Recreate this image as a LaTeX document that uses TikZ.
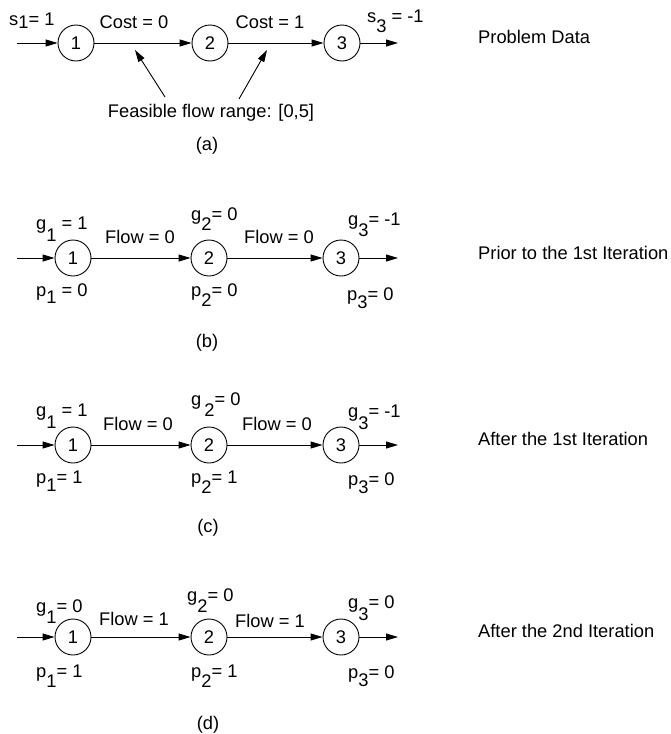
\documentclass[tikz,border=0pt]{standalone}
\usepackage{fontspec}
\setmainfont{Liberation Sans}
\usetikzlibrary{arrows.meta}
\newcommand\dn[2]{\raisebox{-#1pt}{#2}}
\begin{document}
\begin{tikzpicture}[x=1pt,y=-1pt,font=\fontsize{18.3}{20}\selectfont,
 nd/.style={circle,draw,line width=0.9pt,minimum size=36pt,inner sep=0pt},
 arr/.style={line width=0.9pt,-{Triangle[length=12pt,width=7pt]}},
 lbl/.style={anchor=base west,inner sep=0pt},
 ctr/.style={anchor=base,inner sep=0pt}]
\useasboundingbox (0,0) rectangle (671,734);
% ---------- (a)
\node[nd] (a1) at (76,43) {1};
\node[nd] (a2) at (210,43) {2};
\node[nd] (a3) at (342,43) {3};
\coordinate (a0) at (17,43); \coordinate (a4) at (398,43);
\draw[arr] (a0) -- (a1); \draw[arr] (a1) -- (a2); \draw[arr] (a2) -- (a3); \draw[arr] (a3) -- (a4);
\node[lbl] (as1) at (9,25) {s\dn{3}{1}= 1};
\node[ctr] (ac1) at (134,28) {Cost = 0};
\node[ctr] (ac2) at (270,28) {Cost = 1};
\node[lbl] (as3) at (367,22) {s\dn{10}{3} = -1};
\node[ctr] (afeas) at (211,117) {Feasible flow range: [0,5]};
\coordinate (af1) at (165,97); \coordinate (at1) at (135,50);
\coordinate (af2) at (239,99); \coordinate (at2) at (267,50);
\draw[arr] (af1) -- (at1); \draw[arr] (af2) -- (at2);
\node[ctr] (alab) at (207,150) {(a)};
% ---------- (b)
\node[nd] (b1) at (73,258) {1};
\node[nd] (b2) at (209,258) {2};
\node[nd] (b3) at (341,258) {3};
\coordinate (b0) at (17,258); \coordinate (b4) at (398,258);
\draw[arr] (b0) -- (b1); \draw[arr] (b1) -- (b2); \draw[arr] (b2) -- (b3); \draw[arr] (b3) -- (b4);
\node[lbl] (bg1) at (36,229) {g\dn{12}{1} = 1};
\node[ctr] (bf1) at (140,243) {Flow = 0};
\node[lbl] (bg2) at (191,220) {g\dn{10}{2}= 0};
\node[ctr] (bf2) at (279,243) {Flow = 0};
\node[lbl] (bg3) at (348,225) {g\dn{11}{3}= -1};
\node[lbl] (bp1) at (36,296) {p\dn{7}{1} = 0};
\node[lbl] (bp2) at (191,296) {p\dn{10}{2}= 0};
\node[lbl] (bp3) at (347,300) {p\dn{8}{3}= 0};
\node[ctr] (blab) at (207,347) {(b)};
% ---------- (c)
\node[nd] (c1) at (73,445) {1};
\node[nd] (c2) at (209,445) {2};
\node[nd] (c3) at (341,445) {3};
\coordinate (c0) at (17,445); \coordinate (c4) at (398,445);
\draw[arr] (c0) -- (c1); \draw[arr] (c1) -- (c2); \draw[arr] (c2) -- (c3); \draw[arr] (c3) -- (c4);
\node[lbl] (cg1) at (36,416) {g\dn{12}{1} = 1};
\node[ctr] (cf1) at (138,430) {Flow = 0};
\node[lbl] (cg2) at (191,405) {g\,\dn{11}{2}= 0};
\node[ctr] (cf2) at (277,430) {Flow = 0};
\node[lbl] (cg3) at (348,417) {g\dn{12}{3}= -1};
\node[lbl] (cp1) at (36,483) {p\dn{8}{1}= 1};
\node[lbl] (cp2) at (191,483) {p\dn{10}{2}= 1};
\node[lbl] (cp3) at (348,485) {p\dn{8}{3}= 0};
\node[ctr] (clab) at (208,532) {(c)};
% ---------- (d)
\node[nd] (d1) at (73,637) {1};
\node[nd] (d2) at (209,637) {2};
\node[nd] (d3) at (341,637) {3};
\coordinate (d0) at (17,637); \coordinate (d4) at (398,637);
\draw[arr] (d0) -- (d1); \draw[arr] (d1) -- (d2); \draw[arr] (d2) -- (d3); \draw[arr] (d3) -- (d4);
\node[lbl] (dg1) at (36,612) {g\dn{11}{1}= 0};
\node[ctr] (df1) at (134,625) {Flow = 1};
\node[lbl] (dg2) at (187,601) {g\dn{11}{2}= 0};
\node[ctr] (df2) at (270,627) {Flow = 1};
\node[lbl] (dg3) at (348,608) {g\dn{12}{3}= 0};
\node[lbl] (dp1) at (36,677) {p\dn{10}{1}= 1};
\node[lbl] (dp2) at (191,677) {p\dn{10}{2}= 1};
\node[lbl] (dp3) at (348,678) {p\dn{8}{3}= 0};
\node[ctr] (dlab) at (208,729) {(d)};
% ---------- right column
\node[lbl] (ra) at (478,43) {Problem Data};
\node[lbl] (rb) at (478,259) {Prior to the 1st Iteration};
\node[lbl] (rc) at (478,445) {After the 1st Iteration};
\node[lbl] (rd) at (478,637) {After the 2nd Iteration};
\end{tikzpicture}
\end{document}
